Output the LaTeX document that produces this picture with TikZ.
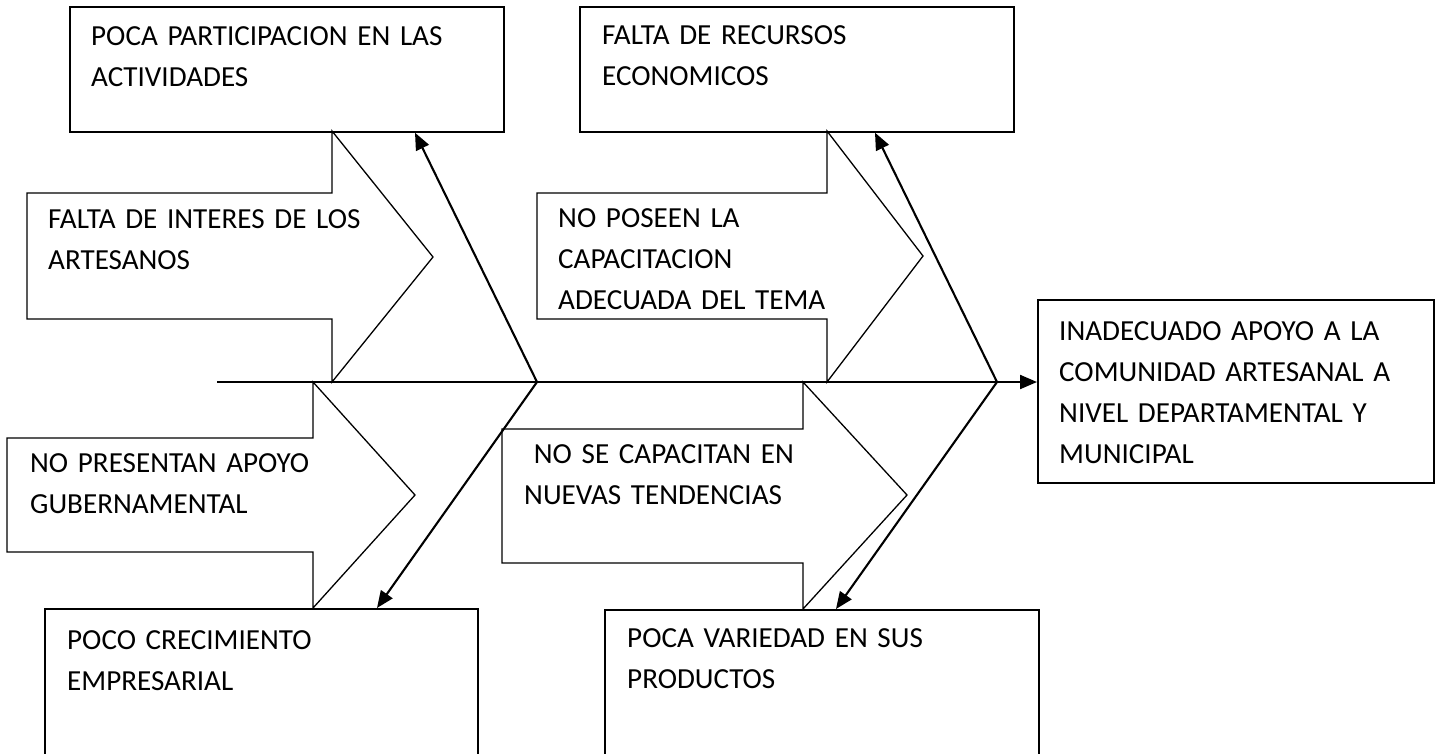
\documentclass[tikz,border=0pt]{standalone}
\usepackage{fontspec}
\setmainfont{Carlito}
\usetikzlibrary{arrows.meta,positioning}

\newcommand{\labelfont}{\fontsize{29.1}{41}\selectfont}

\tikzset{
	causebox/.style={draw, line width=1.7pt, rectangle, anchor=north west, inner sep=0pt},
	blockarrow/.style={draw, line width=1.3pt, line join=miter},
	boxtext/.style={anchor=base west, inner sep=0pt, text width=400pt, align=left, font=\labelfont},
	bone/.style={line width=2.1pt, -{Triangle[length=17pt,width=14pt]}}
}

\begin{document}
\begin{tikzpicture}[x=1pt,y=-1pt]
	\useasboundingbox (0,0) rectangle (1437,753);
	\fill[white] (0,0) rectangle (1437,753);
	
	% cajas
	\node[causebox, minimum width=434pt, minimum height=125pt] (partic) at (69,6) {};
	\node[causebox, minimum width=434pt, minimum height=125pt] (recur) at (579,6) {};
	\node[causebox, minimum width=433pt, minimum height=170pt] (crec) at (44,608) {};
	\node[causebox, minimum width=434pt, minimum height=170pt] (varie) at (604,609) {};
	\node[causebox, minimum width=396pt, minimum height=183pt] (efecto) at (1037,299) {};
	
	% flechas de bloque
	\draw[blockarrow] (27,193) -- (332,193) -- (332,131) -- (433,257) -- (332,382) -- (332,319) -- (27,319) -- cycle;
	\draw[blockarrow] (537,193) -- (827,193) -- (827,131) -- (923,256) -- (827,382) -- (827,319) -- (537,319) -- cycle;
	\draw[blockarrow] (7,438) -- (313,438) -- (313,382) -- (415,495) -- (313,608) -- (313,552) -- (7,552) -- cycle;
	\draw[blockarrow] (502,429) -- (803,429) -- (803,382) -- (907,495) -- (803,609) -- (803,563) -- (502,563) -- cycle;
	
	% espina
	\coordinate (tail) at (217,382);
	\coordinate (jL) at (537,382);
	\coordinate (jR) at (997,382);
	\draw[bone] (tail) -- (tail -| efecto.west);
	\draw[bone] (jL) -- ([xshift=346pt]partic.south west);
	\draw[bone] (jL) -- ([xshift=333pt]crec.north west);
	\draw[bone] (jR) -- ([xshift=296pt]recur.south west);
	\draw[bone] (jR) -- ([xshift=232pt]varie.north west);
	
	% textos
	\node[boxtext] (particT) at (91,45) {POCA PARTICIPACION EN LAS\\ACTIVIDADES};
	\node[boxtext] (recurT) at (602,44) {FALTA DE RECURSOS\\ECONOMICOS};
	\node[boxtext] (interesT) at (48,228) {FALTA DE INTERES DE LOS\\ARTESANOS};
	\node[boxtext] (capacT) at (558,227) {NO POSEEN LA\\CAPACITACION\\ADECUADA DEL TEMA};
	\node[boxtext] (apoyoT) at (30,472) {NO PRESENTAN APOYO\\GUBERNAMENTAL};
	\node[boxtext] (tendT) at (524,463) {~NO SE CAPACITAN EN\\NUEVAS TENDENCIAS};
	\node[boxtext] (crecT) at (67,649) {POCO CRECIMIENTO\\EMPRESARIAL};
	\node[boxtext] (varieT) at (627,647) {POCA VARIEDAD EN SUS\\PRODUCTOS};
	\node[boxtext] (efectoT) at (1059,340) {INADECUADO APOYO A LA\\COMUNIDAD ARTESANAL A\\NIVEL DEPARTAMENTAL Y\\MUNICIPAL};
\end{tikzpicture}
\end{document}
